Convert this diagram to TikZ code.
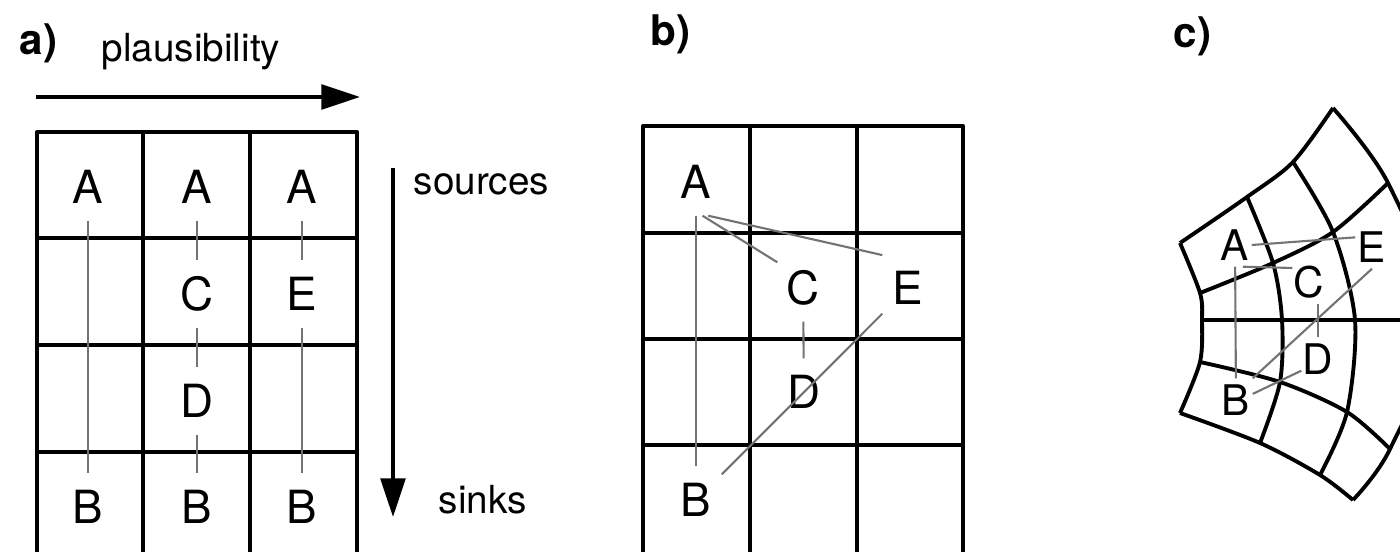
\documentclass[tikz,border=0pt]{standalone}
\usepackage{fontspec}
\setmainfont{TeX Gyre Heros}
\usetikzlibrary{
  arrows.meta,
  calc,
}
\tikzstyle{cellline} = [line width=1.1pt, black, line join=round]
\tikzstyle{link} = [line width=0.6pt, black!55]
\tikzstyle{axis} = [
  -{Triangle[length=11pt,width=7pt]},
  line width=1.1pt,
]
\tikzstyle{tag} = [
  font=\fontsize{13}{13}\selectfont,
  inner sep=0pt,
  minimum width=0.5cm,
  minimum height=0.66cm,
]
\tikzstyle{smalltag} = [
  font=\fontsize{12}{12}\selectfont,
  inner sep=0pt,
  minimum width=0.32cm,
  minimum height=0.42cm,
]
\tikzstyle{panel} = [font=\fontsize{12}{12}\selectfont\bfseries, inner sep=0pt, anchor=base west]
\tikzstyle{axislabel} = [font=\fontsize{11}{11}\selectfont, inner sep=0pt, anchor=base west]

\begin{document}
\begin{tikzpicture}[x=0.01cm, y=-0.01cm]

        \useasboundingbox (0,0) rectangle (1400,552);
        \clip (0,0) rectangle (1400,552);

        % a)
        \node [panel] (pa) at (19,55) {a)};

        \coordinate (pstart) at (36,97);
        \coordinate (pend) at (360,97);
        \draw [axis] (pstart) -- (pend);
        \node [axislabel, anchor=base] (plaus) at (191,62) {plausibility};

        \draw [cellline] (37,132) rectangle (357,560);
        \foreach \x in {143,250} {
          \draw [cellline] (\x,132) -- (\x,560);
        }
        \foreach \y in {238,345,452} {
          \draw [cellline] (37,\y) -- (357,\y);
        }

        \node [tag] (a1) at (88,187) {A};
        \node [tag] (b1) at (88,507) {B};
        \node [tag] (a2) at (197,187) {A};
        \node [tag] (c2) at (197,294) {C};
        \node [tag] (d2) at (197,401) {D};
        \node [tag] (b2) at (197,507) {B};
        \node [tag] (a3) at (302,187) {A};
        \node [tag] (e3) at (302,294) {E};
        \node [tag] (b3) at (302,507) {B};

        \draw [link] (a1) -- (b1);
        \draw [link] (a2) -- (c2);
        \draw [link] (c2) -- (d2);
        \draw [link] (d2) -- (b2);
        \draw [link] (a3) -- (e3);
        \draw [link] (e3) -- (b3);

        \coordinate (stop) at (393,168);
        \coordinate (sbot) at (393,517);
        \draw [axis] (stop) -- (sbot);
        \node [axislabel] (src) at (413,195) {sources};
        \node [axislabel] (snk) at (438,513) {sinks};

        % b)
        \node [panel] (pb) at (650,46) {b)};

        \draw [cellline] (643,126) rectangle (963,560);
        \foreach \x in {750,857} {
          \draw [cellline] (\x,126) -- (\x,560);
        }
        \foreach \y in {233,339,445} {
          \draw [cellline] (643,\y) -- (963,\y);
        }

        \node [tag] (ba) at (696,182) {A};
        \node [tag] (bc) at (803,288) {C};
        \node [tag] (be) at (908,288) {E};
        \node [tag] (bd) at (804,392) {D};
        \node [tag] (bb) at (696,500) {B};

        \draw [link] (ba) -- (bb);
        \draw [link] (ba.-79) -- (bc.135);
        \draw [link] (ba.-70) -- (be.128);
        \draw [link] (bc) -- (bd);
        \draw [link] (bb) -- (be);

        % c)
        \node [panel] (pc) at (1173,48) {c)};

        \draw [cellline] plot [smooth] coordinates {(1180,243) (1200,293) (1202,320) (1200,362) (1180,413)};
        \draw [cellline] plot [smooth] coordinates {(1247,197) (1273,263) (1282,320) (1280,382) (1260,443)};
        \draw [cellline] plot [smooth] coordinates {(1293,162) (1333,232) (1355,320) (1347,412) (1320,475)};
        \draw [cellline] plot [smooth] coordinates {(1333,108) (1388,183) (1438,320) (1390,449) (1353,500)};

        \draw [cellline] plot [smooth] coordinates {(1180,243) (1247,197) (1293,162) (1333,108)};
        \draw [cellline] plot [smooth] coordinates {(1200,293) (1273,263) (1333,232) (1388,183)};
        \draw [cellline] (1202,320) -- (1440,320);
        \draw [cellline] plot [smooth] coordinates {(1200,362) (1280,382) (1347,412) (1390,449)};
        \draw [cellline] plot [smooth] coordinates {(1180,413) (1260,443) (1320,475) (1353,500)};

        \node [smalltag] (ca) at (1235,245) {A};
        \node [smalltag] (cc) at (1309,282) {C};
        \node [smalltag] (ce) at (1372,247) {E};
        \node [smalltag] (cd) at (1318,359) {D};
        \node [smalltag] (cb) at (1236,400) {B};

        \draw [link] (ca) -- (cb);
        \draw [link] (ca.-70) -- (cc.140);
        \draw [link] (ca.east) -- (ce.150);
        \draw [link] (cc.south -| cd) -- (cd.north);
        \draw [link] (cb.north east) -- (ce.south);
        \draw [link] (cb.20) -- (cd.215);
      \end{tikzpicture}
\end{document}
